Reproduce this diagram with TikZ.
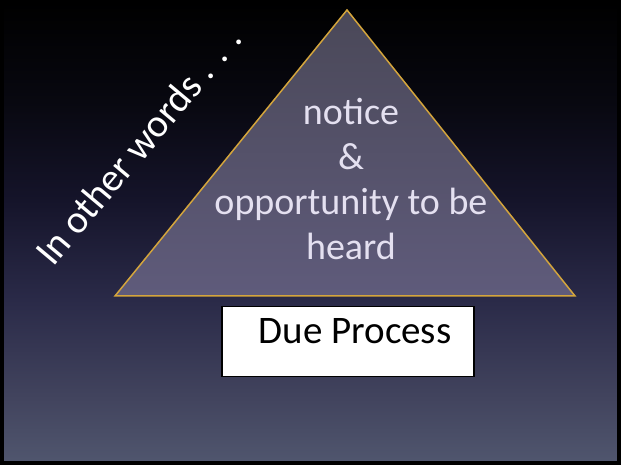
\documentclass[tikz,border=0pt]{standalone}
\usepackage{fontspec}
\setmainfont{Carlito}
\definecolor{bgone}{HTML}{50566E}
\definecolor{bgtwo}{HTML}{42445E}
\definecolor{bgthree}{HTML}{2A2A48}
\definecolor{bgfour}{HTML}{15142A}
\definecolor{bgfive}{HTML}{080810}
\definecolor{goldline}{HTML}{D4A53C}
\definecolor{tritop}{HTML}{4A4858}
\definecolor{tribottom}{HTML}{5F5B7B}
\definecolor{tritext}{HTML}{E4E0F0}
\pgfdeclareverticalshading{slidebg}{100bp}{color(0bp)=(bgone); color(25bp)=(bgone);
  color(32bp)=(bgtwo); color(42.7bp)=(bgthree); color(53.5bp)=(bgfour);
  color(64.2bp)=(bgfive); color(75bp)=(black); color(100bp)=(black)}
\tikzstyle{slide} = [draw=black, line width=4pt, shading=slidebg]
\tikzstyle{pyramid} = [draw=goldline, line width=1.5pt, top color=tritop, bottom color=tribottom]
\tikzstyle{pyrtext} = [text=tritext, align=center, inner sep=0, font={\fontsize{38}{45.3}\selectfont}]
\tikzstyle{aside} = [text=white, inner sep=0, font={\fontsize{39.5}{44}\selectfont}]
\tikzstyle{dpbox} = [draw=black, line width=1.5pt, fill=white, inner sep=0, minimum width=252pt,
  text height=37pt, text depth=33pt, font={\fontsize{39}{44}\selectfont}]
\begin{document}
\begin{tikzpicture}[x=1pt,y=1pt]
    \useasboundingbox (0,0) rectangle (621,465);
    \path[slide] (2,2) rectangle (619,463);
    \coordinate (apex) at (347,455);
    \coordinate (bl) at (115,169);
    \coordinate (br) at (575,169);
    \path[pyramid] (apex)--(bl)--(br)--cycle;
    \node[pyrtext](rights) at (351,286){notice\\\&\\opportunity to be\\heard};
    \node[dpbox,anchor=north](dp) at (348,159){\hspace*{14pt}Due Process};
    \node[aside,anchor=base west,rotate=50](words) at (53,197){In other words . . .};
  \end{tikzpicture}
\end{document}
